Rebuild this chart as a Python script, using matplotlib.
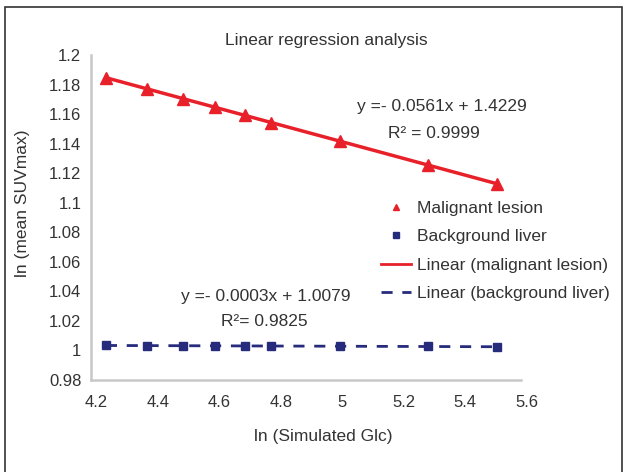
import numpy as np
import matplotlib
matplotlib.use("Agg")
import matplotlib.pyplot as plt
from matplotlib.patches import Rectangle
from matplotlib.lines import Line2D
from matplotlib.ticker import FuncFormatter
from matplotlib.transforms import ScaledTranslation

plt.rcParams['font.family'] = ['Liberation Sans', 'DejaVu Sans']

# data
glc = np.array([70, 80, 90, 100, 110, 120, 150, 200, 250])
ln_glc = np.log(glc)
malignant = [1.1845, 1.177, 1.1705, 1.1646, 1.1592, 1.1543, 1.1418, 1.1257, 1.1125]
background = [1.0034, 1.0033, 1.0032, 1.0031, 1.0030, 1.0030, 1.0029, 1.0027, 1.0025]

eq_malignant = "y =- 0.0561x + 1.4229"
r2_malignant = "R² = 0.9999"
eq_background = "y =- 0.0003x + 1.0079"
r2_background = "R²= 0.9825"

red = "#e8202a"
navy = "#262b7c"
txt = "#333333"

fig = plt.figure(figsize=(6.27, 4.72), dpi=100)
W, H = 627, 472
ax = fig.add_axes([91 / W, 1 - 380 / H, (521 - 91) / W, (380 - 55) / H])

# trendlines
fit_m = np.polyfit(ln_glc, malignant, 1)
fit_b = np.polyfit(ln_glc, background, 1)
xs = np.array([ln_glc[0], ln_glc[-1]])
ax.plot(xs, np.polyval(fit_m, xs), color=red, lw=2.5, zorder=3)
ax.plot(xs, np.polyval(fit_b, xs), color=navy, lw=2, dashes=(4, 3.5), zorder=3)

ax.plot(ln_glc, malignant, linestyle="none", marker="^", ms=8, color=red, zorder=4)
ax.plot(ln_glc, background, linestyle="none", marker="s", ms=5.5, color=navy, zorder=4)

ax.set_xlim(4.2, 5.6)
ax.set_ylim(0.98, 1.2)
ax.set_xticks(np.arange(4.2, 5.61, 0.2))
ax.set_yticks(np.arange(0.98, 1.2001, 0.02))
fmt = FuncFormatter(lambda v, p: "%g" % round(v, 2))
ax.xaxis.set_major_formatter(fmt)
ax.yaxis.set_major_formatter(fmt)
ax.tick_params(length=0, labelsize=12, colors=txt)
ax.tick_params(axis="y", pad=7)
ax.tick_params(axis="x", pad=11)
for lab in ax.get_xticklabels():
    lab.set_transform(lab.get_transform() + ScaledTranslation(0.055, 0, fig.dpi_scale_trans))

for s in ["top", "right"]:
    ax.spines[s].set_visible(False)
for s in ["left", "bottom"]:
    ax.spines[s].set_color("#c8c8c8")
    ax.spines[s].set_linewidth(1.8)

fig.text(326 / W, 1 - 40 / H, "Linear regression analysis", ha="center", va="center",
         fontsize=12.5, color=txt)
fig.text(323 / W, 1 - 437 / H, "ln (Simulated Glc)", ha="center", va="center",
         fontsize=12.5, color=txt)
fig.text(23 / W, 1 - 203 / H, "ln (mean SUVmax)", ha="center", va="center",
         rotation=90, fontsize=12.5, color=txt)

fig.text(357 / W, 1 - 106 / H, eq_malignant, ha="left", va="center", fontsize=12.5, color=txt)
fig.text(388 / W, 1 - 133 / H, r2_malignant, ha="left", va="center", fontsize=12.5, color=txt)
fig.text(181 / W, 1 - 297 / H, eq_background, ha="left", va="center", fontsize=12.5, color=txt)
fig.text(221 / W, 1 - 321 / H, r2_background, ha="left", va="center", fontsize=12.5, color=txt)

handles = [
    Line2D([], [], linestyle="none", marker="^", ms=5, color=red),
    Line2D([], [], linestyle="none", marker="s", ms=4.5, color=navy),
    Line2D([], [], color=red, lw=2),
    Line2D([], [], color=navy, lw=2, dashes=(4, 3.5)),
]
labels = ["Malignant lesion", "Background liver",
          "Linear (malignant lesion)", "Linear (background liver)"]
leg = fig.legend(handles, labels, loc="upper left", bbox_to_anchor=(381 / W, 1 - 201 / H),
                 frameon=False, fontsize=12.5, handlelength=1.75, handletextpad=0.35,
                 labelspacing=0.76, borderpad=0, borderaxespad=0)
for t in leg.get_texts():
    t.set_color(txt)

fig.patches.append(Rectangle((5 / W, -0.05), (622 - 5) / W, 1.05 - 7 / H,
                             transform=fig.transFigure, fill=False,
                             edgecolor="#333333", lw=1.2))

fig.savefig("out.png", dpi=100)
